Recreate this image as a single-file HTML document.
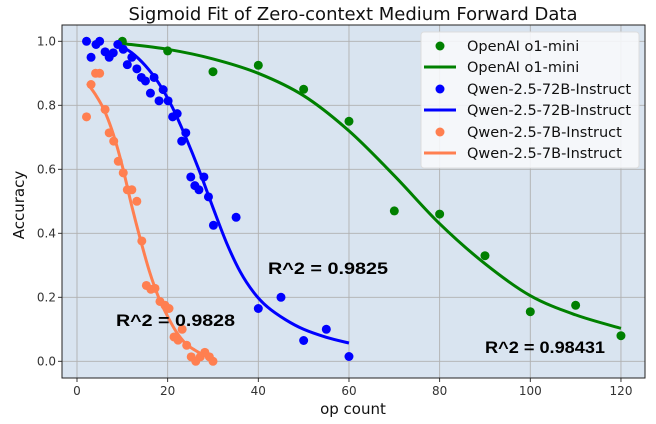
<!DOCTYPE html>
<html><head><meta charset="utf-8"><style>
body{margin:0;background:#fff}
svg{display:block;font-family:"DejaVu Sans","Liberation Sans",sans-serif}
</style></head><body>
<svg id="s" width="656" height="424" xmlns="http://www.w3.org/2000/svg">
<rect x="62" y="25" width="583" height="353" fill="#d9e4f0"/>
<g id="grid" stroke="#b0b0b0" stroke-width="0.9"></g>
<g id="series"></g>
<rect x="62" y="25" width="583" height="353" fill="none" stroke="#222" stroke-width="1"/>
<text x="353" y="20" font-size="18" text-anchor="middle" fill="#111">Sigmoid Fit of Zero-context Medium Forward Data</text>
<text x="353" y="414" font-size="15" text-anchor="middle" fill="#111">op count</text>
<text transform="translate(24,205) rotate(-90)" font-size="15" text-anchor="middle" fill="#111">Accuracy</text>
<g font-family="Liberation Sans,sans-serif" font-weight="bold" font-size="17" fill="#000">
<text x="268" y="274" textLength="120" lengthAdjust="spacingAndGlyphs">R^2 = 0.9825</text>
<text x="116" y="326" textLength="119" lengthAdjust="spacingAndGlyphs">R^2 = 0.9828</text>
<text x="485" y="353" textLength="120" lengthAdjust="spacingAndGlyphs">R^2 = 0.98431</text>
</g>
<rect x="421" y="32" width="218" height="136" rx="3" fill="#f7f8fb" fill-opacity="0.9" stroke="#ddd"/>
<g font-size="14.5" fill="#111">
<circle cx="440" cy="46" r="4.5" fill="#008000"/><text x="467" y="51">OpenAI o1-mini</text>
<line x1="424" y1="67" x2="456" y2="67" stroke="#008000" stroke-width="3"/><text x="467" y="72">OpenAI o1-mini</text>
<circle cx="440" cy="89" r="4.5" fill="#0000ff"/><text x="467" y="94">Qwen-2.5-72B-Instruct</text>
<line x1="424" y1="110" x2="456" y2="110" stroke="#0000ff" stroke-width="3"/><text x="467" y="115">Qwen-2.5-72B-Instruct</text>
<circle cx="440" cy="132" r="4.5" fill="#ff7f50"/><text x="467" y="137">Qwen-2.5-7B-Instruct</text>
<line x1="424" y1="153" x2="456" y2="153" stroke="#ff7f50" stroke-width="3"/><text x="467" y="158">Qwen-2.5-7B-Instruct</text>
</g>
<g font-size="12" fill="#333" text-anchor="end">
<text x="56" y="45.5">1.0</text><text x="56" y="109.5">0.8</text><text x="56" y="173.5">0.6</text>
<text x="56" y="237.5">0.4</text><text x="56" y="301.5">0.2</text><text x="56" y="365.5">0.0</text>
</g>
<g font-size="12" fill="#333" text-anchor="middle">
<text x="77" y="395">0</text><text x="167.7" y="395">20</text><text x="258.3" y="395">40</text>
<text x="349" y="395">60</text><text x="439.7" y="395">80</text><text x="530.3" y="395">100</text><text x="621" y="395">120</text>
</g>
</svg>
<script>
var X=v=>77+4.533*v,Y=v=>361.3-320*v,NS="http://www.w3.org/2000/svg";
var g=document.getElementById('grid'),s=document.getElementById('series');
function el(p,t,a){var e=document.createElementNS(NS,t);for(var k in a)e.setAttribute(k,a[k]);p.appendChild(e);return e;}
for(var i=0;i<=6;i++){var x=X(i*20);el(g,'line',{x1:x,x2:x,y1:25,y2:378});el(g,'line',{x1:x,x2:x,y1:378,y2:382,stroke:'#222'});}
for(var i=0;i<=5;i++){var y=Y(i*0.2);el(g,'line',{x1:62,x2:645,y1:y,y2:y});el(g,'line',{x1:58,x2:62,y1:y,y2:y,stroke:'#222'});}
function curve(pts,c){var P=pts.map(p=>[X(p[0]),Y(p[1])]);var d='M'+P[0];
for(var i=0;i<P.length-1;i++){var p0=P[i-1]||P[i],p1=P[i],p2=P[i+1],p3=P[i+2]||p2;
d+='C'+(p1[0]+(p2[0]-p0[0])/6)+','+(p1[1]+(p2[1]-p0[1])/6)+' '+(p2[0]-(p3[0]-p1[0])/6)+','+(p2[1]-(p3[1]-p1[1])/6)+' '+p2;}
el(s,'path',{d:d,fill:'none',stroke:c,'stroke-width':3,'stroke-linejoin':'round'});}
function dots(pts,c){pts.forEach(p=>el(s,'circle',{cx:X(p[0]),cy:Y(p[1]),r:4.5,fill:c}));}
dots([[10,1.0],[20,0.97],[30,0.905],[40,0.925],[50,0.85],[60,0.75],[70,0.47],[80,0.46],[90,0.33],[100,0.155],[110,0.175],[120,0.08]],'#008000');
curve([[10,0.993],[20,0.975],[30,0.945],[40,0.90],[50,0.83],[60,0.72],[70,0.58],[80,0.43],[90,0.305],[100,0.205],[110,0.145],[120,0.103]],'#008000');
dots([[2.1,1],[3.1,.95],[4.2,.99],[5,1],[6.2,.967],[7.1,.95],[8,.964],[9,.99],[10.2,.975],[11.1,.927],[12.1,.95],[13.2,.914],[14.2,.887],[15.1,.876],[16.2,.838],[17,.887],[18.1,.814],[19,.849],[20.1,.814],[21.1,.764],[22.1,.774],[23.1,.688],[24,.714],[25.1,.576],[26,.549],[26.9,.536],[28,.576],[29,.514],[30.1,.425],[35.1,.45],[40,.165],[45,.2],[50,.065],[55,.1],[60,.015]],'#0000ff');
curve([[9,0.99],[12,0.965],[15,0.925],[18,0.87],[21,0.795],[24,0.70],[27,0.595],[30,0.48],[33,0.37],[36,0.28],[39,0.215],[42,0.17],[46,0.13],[50,0.1],[55,0.075],[60,0.057]],'#0000ff');
dots([[2.1,.764],[3.1,.865],[4.1,.9],[5,.9],[6.2,.787],[7.1,.714],[8.1,.688],[9.1,.625],[10.2,.589],[11.1,.536],[12.1,.536],[13.2,.5],[14.3,.376],[15.3,.237],[16.3,.225],[17.2,.228],[18.3,.187],[19.4,.175],[20.3,.165],[21.4,.076],[22.3,.066],[23.2,.1],[24.2,.05],[25.2,.014],[26.2,0],[27.2,.014],[28.2,.028],[29.2,.014],[30,0]],'#ff7f50');
curve([[2.3,0.868],[4,0.835],[6,0.785],[8,0.71],[10,0.61],[12,0.49],[14,0.38],[16,0.28],[18,0.20],[20,0.14],[22,0.09],[24,0.055],[26,0.035],[28,0.02],[30,0.012]],'#ff7f50');
</script>
</body></html>
